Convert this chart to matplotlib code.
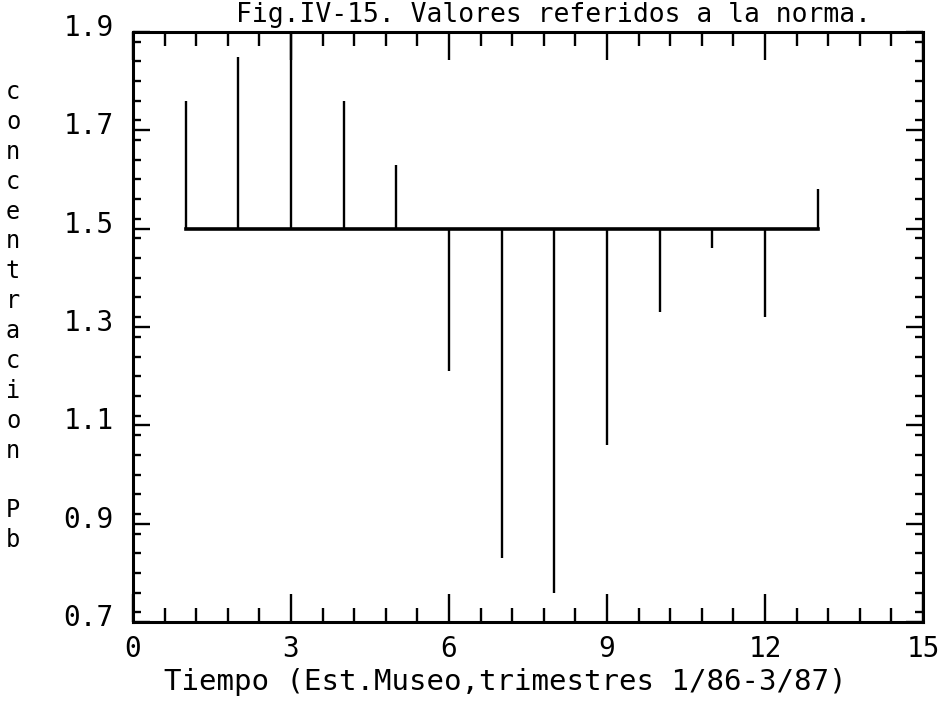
from __future__ import annotations

import matplotlib

matplotlib.use("Agg")
import matplotlib.pyplot as plt
import numpy as np
from matplotlib.ticker import FixedLocator, MultipleLocator
from matplotlib.transforms import ScaledTranslation

# quarterly Pb concentration, Est. Museo 1/86 - 3/87, relative to the norm
trimestres = [1, 2, 3, 4, 5, 6, 7, 8, 9, 10, 11, 12, 13]
concentracion = [1.76, 1.85, 1.90, 1.76, 1.63, 1.21, 0.83, 0.76, 1.06, 1.33, 1.46, 1.32, 1.58]
norma = 1.5

x_ticks = [0, 3, 6, 9, 12, 15]
y_ticks = [0.7, 0.9, 1.1, 1.3, 1.5, 1.7, 1.9]

titulo = "Fig.IV-15. Valores referidos a la norma."
eje_x = "Tiempo (Est.Museo,trimestres 1/86-3/87)"
eje_y = "concentracion Pb"

FONT = "DejaVu Sans Mono"


def main() -> None:
    plt.rcParams["font.family"] = FONT

    fig = plt.figure(figsize=(9.4, 7.03), dpi=100)
    ax = fig.add_axes([0.1415, 0.1152, 0.8404, 0.8393])

    markerline, stemlines, baseline = ax.stem(
        trimestres, concentracion, bottom=norma, markerfmt=" ", basefmt="k-", linefmt="k-"
    )
    stemlines.set_linewidth(1.7)
    baseline.set_linewidth(2.6)

    ax.set_xlim(0, 15)
    ax.set_ylim(0.7, 1.9)

    ax.xaxis.set_major_locator(FixedLocator(x_ticks))
    ax.xaxis.set_minor_locator(MultipleLocator(0.6))
    ax.yaxis.set_major_locator(FixedLocator(y_ticks))
    ax.yaxis.set_minor_locator(MultipleLocator(0.04))
    ax.set_xticklabels([str(t) for t in x_ticks])
    ax.set_yticklabels([f"{t:.1f}" for t in y_ticks])

    ax.tick_params(axis="both", which="both", direction="in", top=True, right=True,
                   colors="black", width=1.7)
    ax.tick_params(axis="x", which="major", length=20, labelsize=20, pad=9)
    ax.tick_params(axis="x", which="minor", length=10)
    ax.tick_params(axis="y", which="major", length=12, labelsize=20, pad=14)
    ax.tick_params(axis="y", which="minor", length=6)

    # plotter put the y labels a little above their ticks
    shift = ScaledTranslation(0, 0.07, fig.dpi_scale_trans)
    for lbl in ax.get_yticklabels():
        lbl.set_transform(lbl.get_transform() + shift)

    for spine in ax.spines.values():
        spine.set_linewidth(2.2)

    fig.text(553 / 940, 1 - 22 / 703, titulo, ha="center", va="baseline", fontsize=19)
    fig.text(505 / 940, 1 - 682 / 703, eje_x, ha="center", va="center", fontsize=21)
    fig.text(13 / 940, 1 - 80 / 703, "\n".join(eje_y), ha="center", va="top",
             fontsize=17, linespacing=1.31)

    fig.savefig("out.png", dpi=100)


if __name__ == "__main__":
    main()
